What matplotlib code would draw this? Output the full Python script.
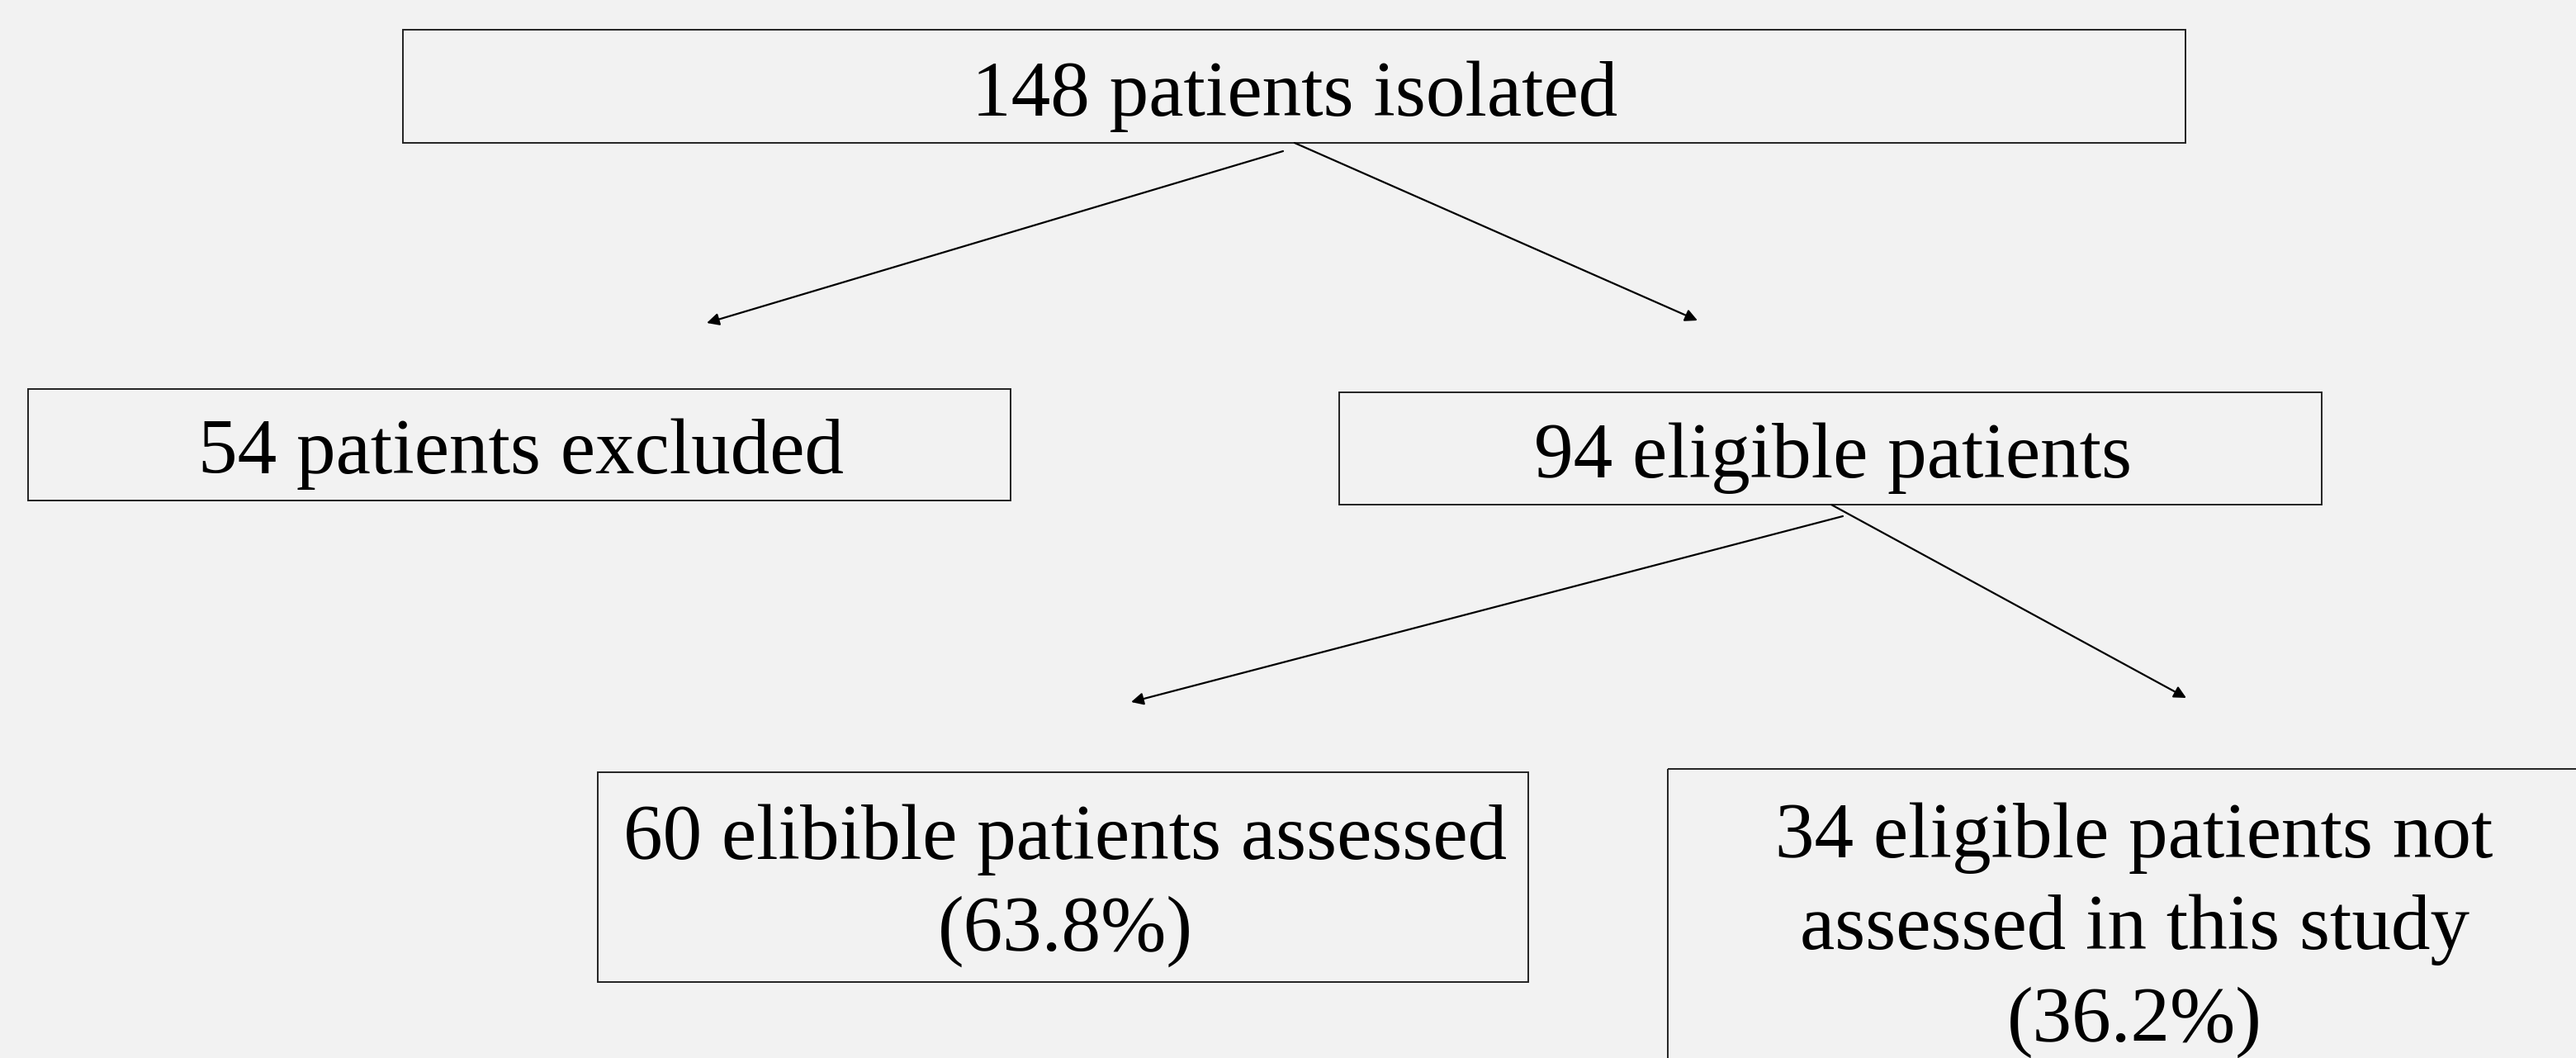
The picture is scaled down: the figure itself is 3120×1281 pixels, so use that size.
import matplotlib
matplotlib.use("Agg")
import matplotlib.pyplot as plt
from matplotlib.patches import Rectangle

# flowchart content
labels = [
    "148 patients isolated",
    "54 patients excluded",
    "94 eligible patients",
    "60 elibible patients assessed\n(63.8%)",
    "34 eligible patients not\nassessed in this study\n(36.2%)",
]
# box edges in pixels: left, top, right, bottom
box_left = [488, 34, 1622, 724, 2020]
box_top = [36, 471, 475, 935, 931]
box_right = [2647, 1224, 2812, 1851, 3140]
box_bottom = [173, 606, 611, 1189, 1300]
# text centre
text_x = [1568, 631, 2220, 1290, 2585]
text_y = [117, 550, 555, 1072, 1126]

# arrows: start -> end
arrow_start = [(1554, 183), (1568, 173), (2232, 625), (2218, 611)]
arrow_end = [(856, 391), (2056, 388), (1370, 850), (2648, 845)]

W, H = 3120, 1281
bg = "#f2f2f2"

fig = plt.figure(figsize=(W / 100, H / 100), dpi=100, facecolor=bg)
ax = fig.add_axes([0, 0, 1, 1])
ax.set_facecolor(bg)
ax.set_xlim(0, W)
ax.set_ylim(H, 0)
ax.axis("off")

for i, label in enumerate(labels):
    ax.add_patch(Rectangle((box_left[i], box_top[i]),
                           box_right[i] - box_left[i],
                           box_bottom[i] - box_top[i],
                           fill=False, edgecolor="#222222", linewidth=1.4))
    ax.text(text_x[i], text_y[i], label, ha="center", va="center",
            fontsize=68.5, family="Liberation Serif", color="black",
            linespacing=1.37)

for (x0, y0), (x1, y1) in zip(arrow_start, arrow_end):
    ax.annotate("", xy=(x1, y1), xytext=(x0, y0),
                arrowprops=dict(arrowstyle="-|>", color="black", lw=1.6,
                                mutation_scale=22, shrinkA=0, shrinkB=0))

fig.savefig("out.png", dpi=100, facecolor=bg)
